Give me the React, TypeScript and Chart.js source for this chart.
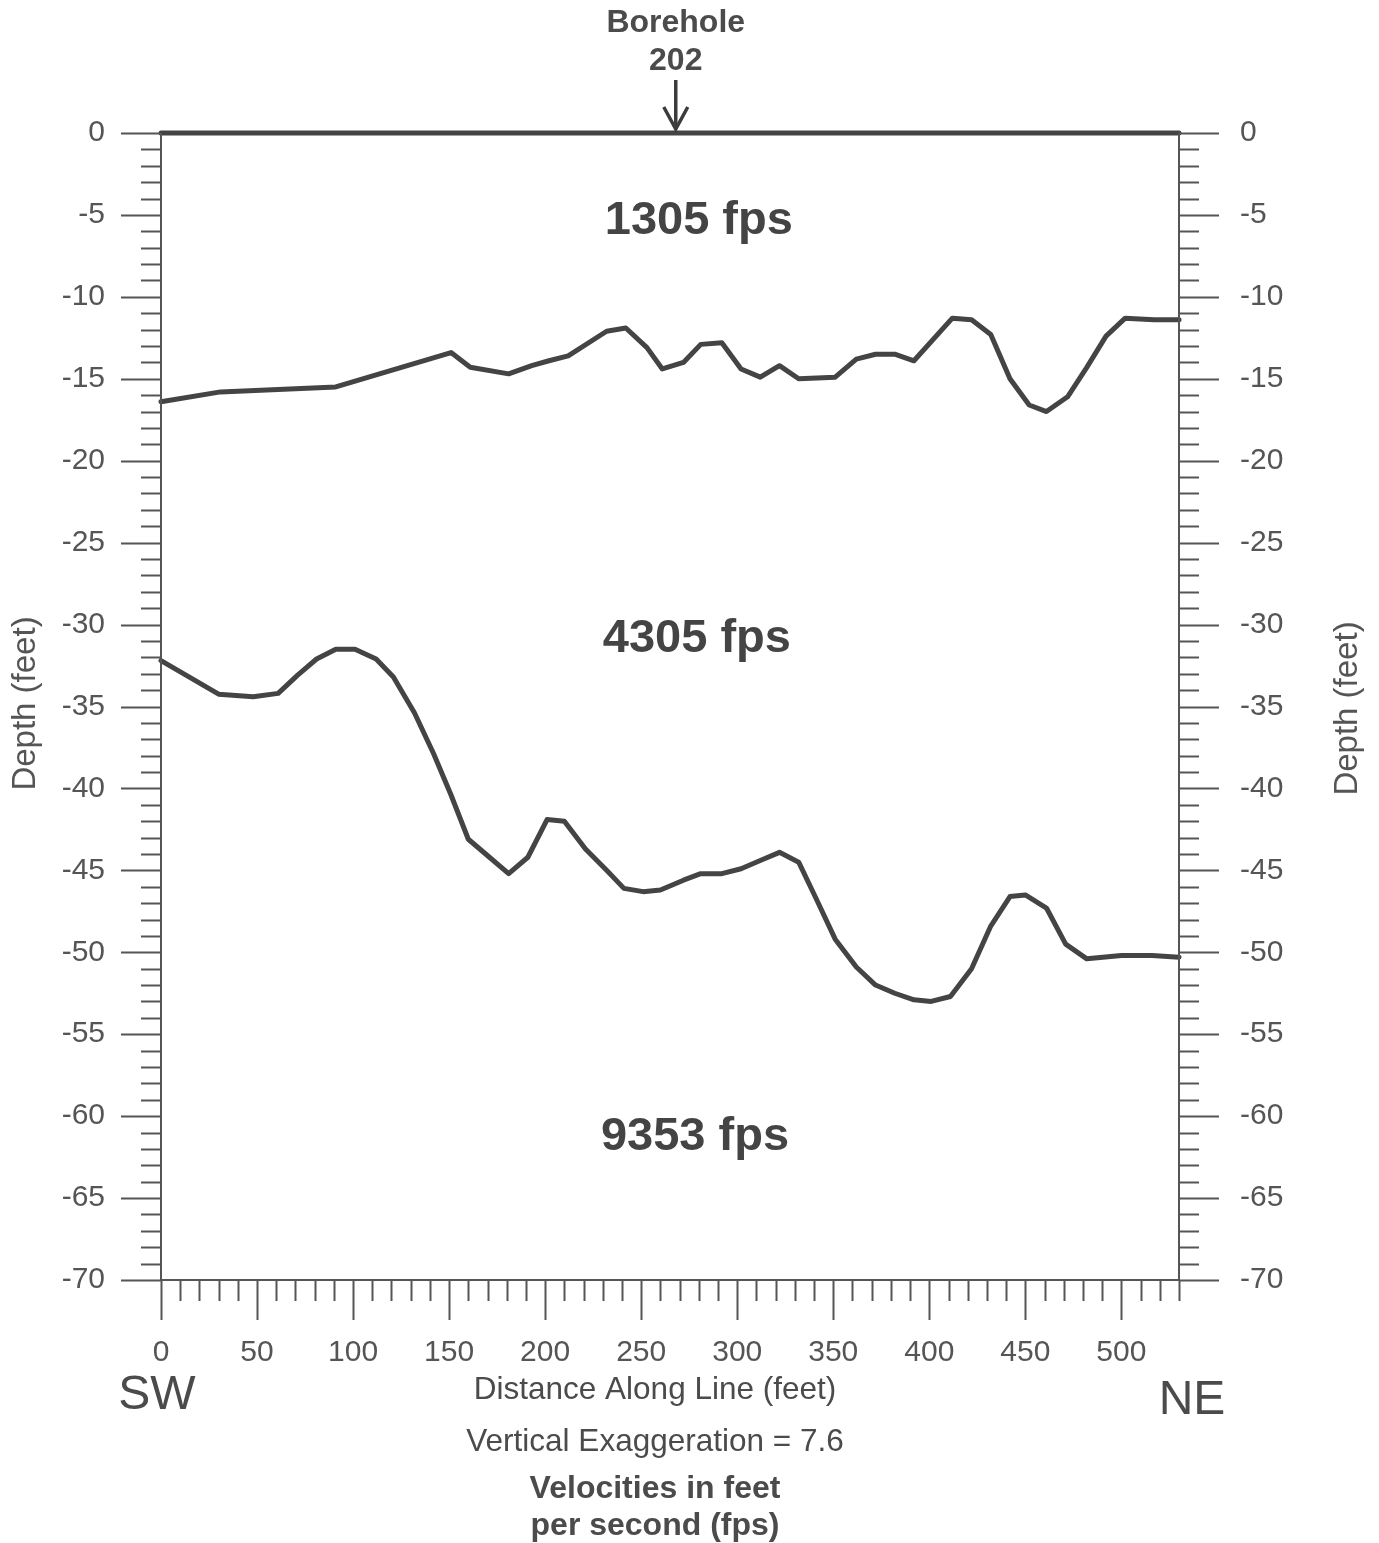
import React, { useEffect, useRef } from "react";
import { Chart, registerables } from "chart.js";

Chart.register(...registerables);

// Seismic refraction profile: interfaces between velocity layers (depth in feet)
const groundDistance = [0, 530];
const groundDepth = [0, 0];

const upperDistance = [0, 31, 91, 151, 161, 181, 193, 202, 212, 232, 242, 253, 261, 272, 281, 292, 302, 312, 322, 332, 351, 362, 372, 382, 392, 412, 422, 432, 442, 452, 461, 472, 482, 492, 502, 517, 530];
const upperDepth = [-16.4, -15.8, -15.5, -13.4, -14.3, -14.7, -14.2, -13.9, -13.6, -12.1, -11.9, -13.1, -14.4, -14.0, -12.9, -12.8, -14.4, -14.9, -14.2, -15.0, -14.9, -13.8, -13.5, -13.5, -13.9, -11.3, -11.4, -12.3, -15.0, -16.6, -17.0, -16.1, -14.3, -12.4, -11.3, -11.4, -11.4];

const lowerDistance = [0, 30, 48, 61, 71, 81, 91, 101, 112, 121, 132, 142, 151, 160, 171, 181, 191, 201, 210, 221, 232, 241, 251, 260, 272, 281, 292, 302, 312, 322, 332, 341, 351, 362, 372, 382, 392, 401, 411, 422, 432, 442, 450, 461, 471, 482, 500, 516, 530];
const lowerDepth = [-32.2, -34.25, -34.4, -34.2, -33.1, -32.1, -31.5, -31.5, -32.1, -33.2, -35.4, -37.9, -40.4, -43.1, -44.2, -45.2, -44.2, -41.9, -42.0, -43.7, -45.0, -46.1, -46.3, -46.2, -45.6, -45.2, -45.2, -44.9, -44.4, -43.9, -44.5, -46.7, -49.2, -50.9, -52.0, -52.5, -52.9, -53.0, -52.7, -51.0, -48.4, -46.6, -46.5, -47.3, -49.5, -50.4, -50.2, -50.2, -50.3];

// Layer velocities and where their labels sit (distance, depth)
const layerVelocities = ["1305 fps", "4305 fps", "9353 fps"];
const layerLabelDistance = [280, 279, 278];
const layerLabelDepth = [-5.35, -30.9, -61.3];

const boreholeName = ["Borehole", "202"];
const boreholeDistance = 268;

const distanceRange = [0, 530];
const depthRange = [-70, 0];

const LINE = "#444444";
const AXIS = "#555555";
const TEXT = "#4b4b4b";
const FONT = "'Liberation Sans', Arial, Helvetica, sans-serif";

const toPoints = (xs: number[], ys: number[]) => xs.map((x, i) => ({ x, y: ys[i] }));

const decorations = {
  id: "profileDecorations",
  afterDraw(chart: any) {
    const { ctx, chartArea: a, scales } = chart;
    const xs = scales.x;
    const ys = scales.y;
    const seg = (x1: number, y1: number, x2: number, y2: number) => {
      ctx.beginPath();
      ctx.moveTo(x1, y1);
      ctx.lineTo(x2, y2);
      ctx.stroke();
    };
    ctx.save();
    ctx.strokeStyle = AXIS;
    ctx.lineWidth = 2;
    ctx.lineCap = "butt";
    // frame
    seg(a.left, a.top, a.left, a.bottom);
    seg(a.right, a.top, a.right, a.bottom);
    seg(a.left, a.bottom, a.right, a.bottom);
    // depth ticks, 1 ft minor / 5 ft major, on both sides
    for (let v = depthRange[1]; v >= depthRange[0]; v--) {
      const y = Math.round(ys.getPixelForValue(v)) + 0.5;
      const len = v % 5 === 0 ? 40 : 20;
      seg(a.left - len, y, a.left, y);
      seg(a.right, y, a.right + len, y);
    }
    // distance ticks, 10 ft minor / 50 ft major
    for (let v = distanceRange[0]; v <= distanceRange[1]; v += 10) {
      const x = Math.round(xs.getPixelForValue(v)) + 0.5;
      const len = v % 50 === 0 ? 40 : 21;
      seg(x, a.bottom, x, a.bottom + len);
    }

    // borehole marker
    const bx = xs.getPixelForValue(boreholeDistance);
    ctx.fillStyle = TEXT;
    ctx.textAlign = "center";
    ctx.textBaseline = "middle";
    ctx.font = `bold 32px ${FONT}`;
    ctx.fillText(boreholeName[0], bx, a.top - 110);
    ctx.fillText(boreholeName[1], bx, a.top - 72);
    ctx.strokeStyle = "#3c3c3c";
    ctx.lineWidth = 3.5;
    seg(bx, a.top - 53, bx, a.top - 6);
    ctx.lineJoin = "miter";
    ctx.beginPath();
    ctx.moveTo(bx - 12, a.top - 26);
    ctx.lineTo(bx, a.top - 4);
    ctx.lineTo(bx + 12, a.top - 26);
    ctx.stroke();

    // layer velocities
    ctx.font = `bold 47px ${FONT}`;
    ctx.fillStyle = "#444444";
    layerVelocities.forEach((t, i) => {
      ctx.fillText(t, xs.getPixelForValue(layerLabelDistance[i]), ys.getPixelForValue(layerLabelDepth[i]));
    });

    // axis titles and notes
    ctx.fillStyle = TEXT;
    ctx.font = `48px ${FONT}`;
    ctx.fillText("SW", a.left - 4, a.bottom + 116);
    ctx.fillText("NE", a.right + 13, a.bottom + 121);
    const cx = a.left + 494;
    ctx.font = `31.5px ${FONT}`;
    ctx.fillText("Distance Along Line (feet)", cx, a.bottom + 110);
    ctx.fillText("Vertical Exaggeration = 7.6", cx, a.bottom + 162);
    ctx.font = `bold 32px ${FONT}`;
    ctx.fillText("Velocities in feet", cx, a.bottom + 209);
    ctx.fillText("per second (fps)", cx, a.bottom + 246);

    ctx.font = `33px ${FONT}`;
    ctx.fillStyle = "#555555";
    const midY = (a.top + a.bottom) / 2;
    [[18, midY - 3], [1340, midY + 2]].forEach(([x, y]) => {
      ctx.save();
      ctx.translate(x, y);
      ctx.rotate(-Math.PI / 2);
      ctx.fillText("Depth (feet)", 0, 0);
      ctx.restore();
    });
    ctx.restore();
  },
};

export default function App() {
  const ref = useRef<HTMLCanvasElement | null>(null);

  useEffect(() => {
    document.documentElement.style.overflow = "hidden";
    const canvas = ref.current;
    if (!canvas) return;
    const lineStyle = {
      borderColor: LINE,
      borderWidth: 5,
      pointRadius: 0,
      tension: 0,
      fill: false,
      clip: 8,
      borderJoinStyle: "round" as const,
      borderCapStyle: "round" as const,
    };
    const tickFont = { family: FONT, size: 30 };
    const depthTicks = {
      stepSize: 5,
      font: tickFont,
      color: "#555555",
      callback: (v: any) => String(v),
    };
    const chart = new Chart(canvas, {
      type: "line",
      data: {
        datasets: [
          { label: "Ground surface", data: toPoints(groundDistance, groundDepth), ...lineStyle },
          { label: "Upper interface", data: toPoints(upperDistance, upperDepth), ...lineStyle },
          { label: "Lower interface", data: toPoints(lowerDistance, lowerDepth), ...lineStyle },
        ],
      },
      options: {
        responsive: false,
        animation: false,
        layout: { padding: { top: 125, left: 0, right: 0, bottom: 0 } },
        plugins: { legend: { display: false }, tooltip: { enabled: false }, title: { display: false } },
        scales: {
          x: {
            type: "linear",
            position: "bottom",
            min: distanceRange[0],
            max: distanceRange[1],
            grid: { display: false, drawTicks: true, tickLength: 40 },
            border: { display: false },
            ticks: {
              stepSize: 50,
              includeBounds: false,
              autoSkip: false,
              maxRotation: 0,
              padding: 15,
              font: tickFont,
              color: "#555555",
              callback: (v: any) => String(v),
            },
            afterFit: (s: any) => {
              s.height = 263;
            },
          },
          y: {
            type: "linear",
            position: "left",
            min: depthRange[0],
            max: depthRange[1],
            grid: { display: false, drawTicks: true, tickLength: 40 },
            border: { display: false },
            ticks: { ...depthTicks, padding: 16 },
            afterFit: (s: any) => {
              s.width = 153;
            },
          },
          y2: {
            type: "linear",
            position: "right",
            min: depthRange[0],
            max: depthRange[1],
            grid: { display: false, drawTicks: true, tickLength: 40 },
            border: { display: false },
            ticks: { ...depthTicks, padding: 21 },
            afterFit: (s: any) => {
              s.width = 192;
            },
          },
        },
      } as any,
      plugins: [decorations],
    });
    return () => chart.destroy();
  }, []);

  return (
    <div style={{ width: 1363, height: 1535 }}>
      <canvas ref={ref} width={1363} height={1535} style={{ display: "block" }} />
    </div>
  );
}
